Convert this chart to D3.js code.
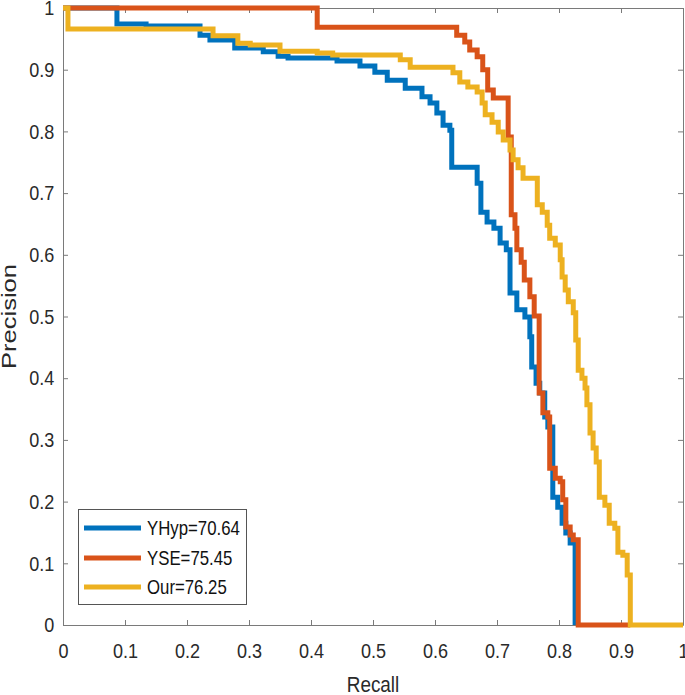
<!DOCTYPE html>
<html>
<head>
<meta charset="utf-8">
<script src="https://cdn.jsdelivr.net/npm/d3@7"></script>
<style>
  html, body { margin: 0; padding: 0; background: #fff; }
  svg { display: block; font-family: "Liberation Sans", Arial, sans-serif; }
</style>
</head>
<body>
<svg id="chart" width="685" height="695"></svg>
<script>
// ---- Data ----
const seriesNames = ["YHyp=70.64", "YSE=75.45", "Our=76.25"];
const seriesColors = ["#0072BD", "#D95319", "#EDB120"];

const yhypRecall = [0, 0.087, 0.134, 0.221, 0.237, 0.277, 0.323, 0.347, 0.363, 0.442, 0.479, 0.503, 0.523, 0.552, 0.579, 0.592, 0.603, 0.613, 0.624, 0.627, 0.668, 0.674, 0.684, 0.695, 0.705, 0.715, 0.721, 0.732, 0.745, 0.753, 0.756, 0.763, 0.769, 0.777, 0.782, 0.790, 0.798, 0.805, 0.811, 0.818, 0.826];
const yhypPrecision = [1.0, 0.974, 0.971, 0.956, 0.948, 0.935, 0.929, 0.922, 0.919, 0.914, 0.906, 0.896, 0.883, 0.870, 0.856, 0.846, 0.830, 0.810, 0.802, 0.742, 0.716, 0.669, 0.653, 0.643, 0.619, 0.608, 0.538, 0.511, 0.499, 0.467, 0.418, 0.392, 0.376, 0.337, 0.321, 0.207, 0.191, 0.165, 0.149, 0.133, 0];

const yseRecall = [0, 0.410, 0.635, 0.648, 0.656, 0.668, 0.677, 0.685, 0.694, 0.718, 0.723, 0.729, 0.732, 0.739, 0.744, 0.753, 0.760, 0.768, 0.774, 0.782, 0.785, 0.794, 0.802, 0.806, 0.811, 0.818, 0.823, 0.831, 0.915];
const ysePrecision = [1.0, 0.969, 0.956, 0.945, 0.932, 0.921, 0.900, 0.867, 0.854, 0.791, 0.665, 0.643, 0.608, 0.588, 0.559, 0.532, 0.501, 0.376, 0.344, 0.337, 0.254, 0.238, 0.232, 0.203, 0.159, 0.146, 0.138, 0, 0];

const ourRecall = [0, 0.008, 0.242, 0.282, 0.302, 0.350, 0.410, 0.435, 0.544, 0.560, 0.629, 0.640, 0.653, 0.668, 0.676, 0.681, 0.692, 0.702, 0.710, 0.721, 0.726, 0.734, 0.742, 0.765, 0.773, 0.781, 0.785, 0.794, 0.802, 0.805, 0.810, 0.815, 0.823, 0.827, 0.831, 0.837, 0.842, 0.845, 0.850, 0.855, 0.860, 0.865, 0.874, 0.881, 0.890, 0.895, 0.903, 0.910, 0.915, 1.0];
const ourPrecision = [1.0, 0.966, 0.955, 0.943, 0.940, 0.930, 0.927, 0.924, 0.916, 0.904, 0.895, 0.880, 0.872, 0.864, 0.846, 0.827, 0.815, 0.799, 0.786, 0.770, 0.754, 0.741, 0.724, 0.681, 0.669, 0.648, 0.627, 0.616, 0.592, 0.564, 0.543, 0.524, 0.506, 0.462, 0.413, 0.400, 0.384, 0.357, 0.311, 0.287, 0.264, 0.207, 0.194, 0.165, 0.157, 0.118, 0.113, 0.081, 0, 0];

const xTicks = [0, 0.1, 0.2, 0.3, 0.4, 0.5, 0.6, 0.7, 0.8, 0.9, 1];
const yTicks = [0, 0.1, 0.2, 0.3, 0.4, 0.5, 0.6, 0.7, 0.8, 0.9, 1];
const xLabel = "Recall";
const yLabel = "Precision";

// ---- Layout ----
const svg = d3.select("#chart");
const m = { left: 63, top: 8, right: 2, bottom: 70 };
const W = 685, H = 695;
const pw = W - m.left - m.right;   // 620
const ph = H - m.top - m.bottom;   // 617
const sx = 0.86; // horizontal squeeze of the reference text

const x = d3.scaleLinear().domain([0, 1]).range([m.left, m.left + pw]);
const y = d3.scaleLinear().domain([0, 1]).range([m.top + ph, m.top]);

const axisColor = "#7a7a7a";
const textColor = "#2a2a2a";
const fmt = d => d3.format("")(d);

// bottom axis
const gB = svg.append("g").attr("transform", `translate(0,${m.top + ph})`)
  .call(d3.axisBottom(x).tickValues(xTicks).tickFormat(fmt).tickSizeInner(-5).tickSizeOuter(0).tickPadding(18));
// left axis
const gL = svg.append("g").attr("transform", `translate(${m.left},0)`)
  .call(d3.axisLeft(y).tickValues(yTicks).tickFormat(fmt).tickSizeInner(-5).tickSizeOuter(0).tickPadding(10));
// top axis (box)
const gT = svg.append("g").attr("transform", `translate(0,${m.top})`)
  .call(d3.axisTop(x).tickValues(xTicks).tickFormat("").tickSizeInner(-5).tickSizeOuter(0));
// right axis (box)
const gR = svg.append("g").attr("transform", `translate(${m.left + pw},0)`)
  .call(d3.axisRight(y).tickValues(yTicks).tickFormat("").tickSizeInner(-5).tickSizeOuter(0));

[gB, gL, gT, gR].forEach(g => {
  g.select(".domain").attr("stroke", axisColor).attr("stroke-width", 1);
  g.selectAll(".tick line").attr("stroke", axisColor).attr("stroke-width", 1);
  g.selectAll("text").attr("fill", textColor).style("font-size", "21px")
    .style("font-family", '"Liberation Sans", Arial, sans-serif');
});
gB.selectAll(".tick text").attr("transform", `scale(${sx},1)`);
gL.selectAll(".tick text").attr("transform", `scale(${sx},1)`);

// axis titles
svg.append("text")
  .attr("transform", `translate(${x(0.5)},692) scale(${sx},1)`)
  .attr("text-anchor", "middle").attr("fill", textColor)
  .style("font-size", "22px").text(xLabel);
svg.append("text")
  .attr("transform", `translate(16,${y(0.5)}) rotate(-90) scale(1,0.82)`)
  .attr("text-anchor", "middle").attr("fill", textColor)
  .style("font-size", "24px")
  .attr("textLength", 105).attr("lengthAdjust", "spacingAndGlyphs")
  .text(yLabel);

// ---- Lines ----
const series = [
  { name: seriesNames[0], color: seriesColors[0], r: yhypRecall, p: yhypPrecision },
  { name: seriesNames[1], color: seriesColors[1], r: yseRecall, p: ysePrecision },
  { name: seriesNames[2], color: seriesColors[2], r: ourRecall, p: ourPrecision }
];

const line = d3.line()
  .x(d => x(d[0]))
  .y(d => y(d[1]))
  .curve(d3.curveStepAfter);

svg.append("g").selectAll("path")
  .data(series)
  .join("path")
  .attr("d", s => line(s.r.map((r, i) => [r, s.p[i]])))
  .attr("fill", "none")
  .attr("stroke", s => s.color)
  .attr("stroke-width", 5)
  .attr("stroke-linejoin", "miter")
  .attr("stroke-linecap", "butt");

// ---- Legend ----
const lg = svg.append("g");
lg.append("rect")
  .attr("x", 78.5).attr("y", 509.5).attr("width", 168).attr("height", 95)
  .attr("fill", "#fff").attr("stroke", "#555").attr("stroke-width", 1);
const rowY = [528, 558, 587];
series.forEach((s, i) => {
  lg.append("line")
    .attr("x1", 84).attr("x2", 141).attr("y1", rowY[i]).attr("y2", rowY[i])
    .attr("stroke", s.color).attr("stroke-width", 5);
  lg.append("text")
    .attr("transform", `translate(147,${rowY[i] + 7}) scale(0.84,1)`)
    .attr("fill", "#111").style("font-size", "20px")
    .text(s.name);
});
</script>
</body>
</html>
